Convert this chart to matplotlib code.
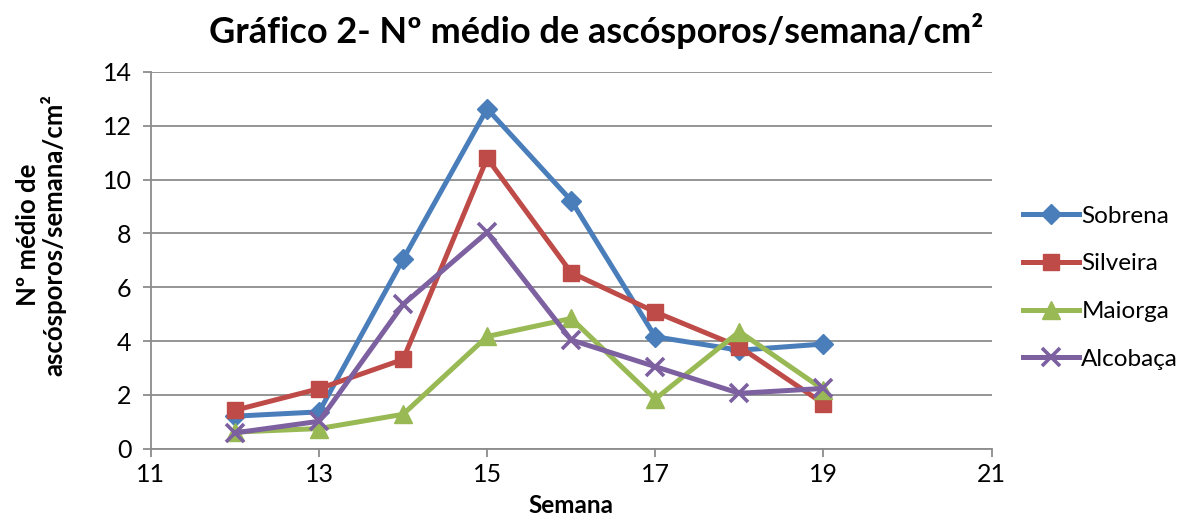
import matplotlib.pyplot as plt

plt.rcParams['font.family'] = ['Lato', 'DejaVu Sans']

semanas = [12, 13, 14, 15, 16, 17, 18, 19]
sobrena = [1.21, 1.37, 7.04, 12.63, 9.22, 4.16, 3.66, 3.89]
silveira = [1.43, 2.23, 3.32, 10.79, 6.54, 5.08, 3.79, 1.68]
maiorga = [0.62, 0.75, 1.28, 4.17, 4.84, 1.85, 4.35, 2.2]
alcobaca = [0.59, 1.02, 5.36, 8.04, 4.04, 3.05, 2.06, 2.24]

series = [
    ("Sobrena", sobrena, "#4A7EBB", "D", 10.5),
    ("Silveira", silveira, "#BE4B48", "s", 12),
    ("Maiorga", maiorga, "#98B954", "^", 13),
    ("Alcobaça", alcobaca, "#7D60A0", "x", 13),
]

fig = plt.figure(figsize=(11.79, 5.17), dpi=100)
ax = fig.add_axes([0.128, 0.132, 0.713, 0.729])

for name, vals, col, mk, ms in series:
    ax.plot(semanas, vals, color=col, lw=3.6, marker=mk, markersize=ms,
            markeredgewidth=2.6 if mk == "x" else 1, markeredgecolor=col,
            label=name, zorder=3)

ax.set_xlim(11, 21)
ax.set_ylim(0, 14)
ax.set_xticks(range(11, 22, 2))
ax.set_yticks(range(0, 15, 2))
ax.grid(axis='y', color='#8C8C8C', lw=1.3, zorder=1)
for s in ['top', 'right']:
    ax.spines[s].set_visible(False)
for s in ['left', 'bottom']:
    ax.spines[s].set_color('#8C8C8C')
    ax.spines[s].set_linewidth(1.3)
ax.tick_params(axis='both', colors='#8C8C8C', labelcolor='black', labelsize=18,
               length=6, width=1.3)
ax.tick_params(axis='y', pad=8)
ax.tick_params(axis='x', pad=4)

ax.set_xlabel("Semana", fontsize=17.5, fontweight='bold', labelpad=6)
ax.set_ylabel("Nº médio de\nascósporos/semana/cm²", fontsize=18.5,
              fontweight='bold', linespacing=1.05)
ax.yaxis.set_label_coords(-0.1, 0.568)
fig.suptitle("Gráfico 2- Nº médio de ascósporos/semana/cm²", fontsize=26,
             fontweight='bold', x=0.506, y=0.975)

leg = ax.legend(loc='center left', bbox_to_anchor=(1.02, 0.427), frameon=False,
                fontsize=17.5, handlelength=2.3, labelspacing=1.1,
                handletextpad=0.1, borderaxespad=0.2)

fig.savefig("out.png", dpi=100)
